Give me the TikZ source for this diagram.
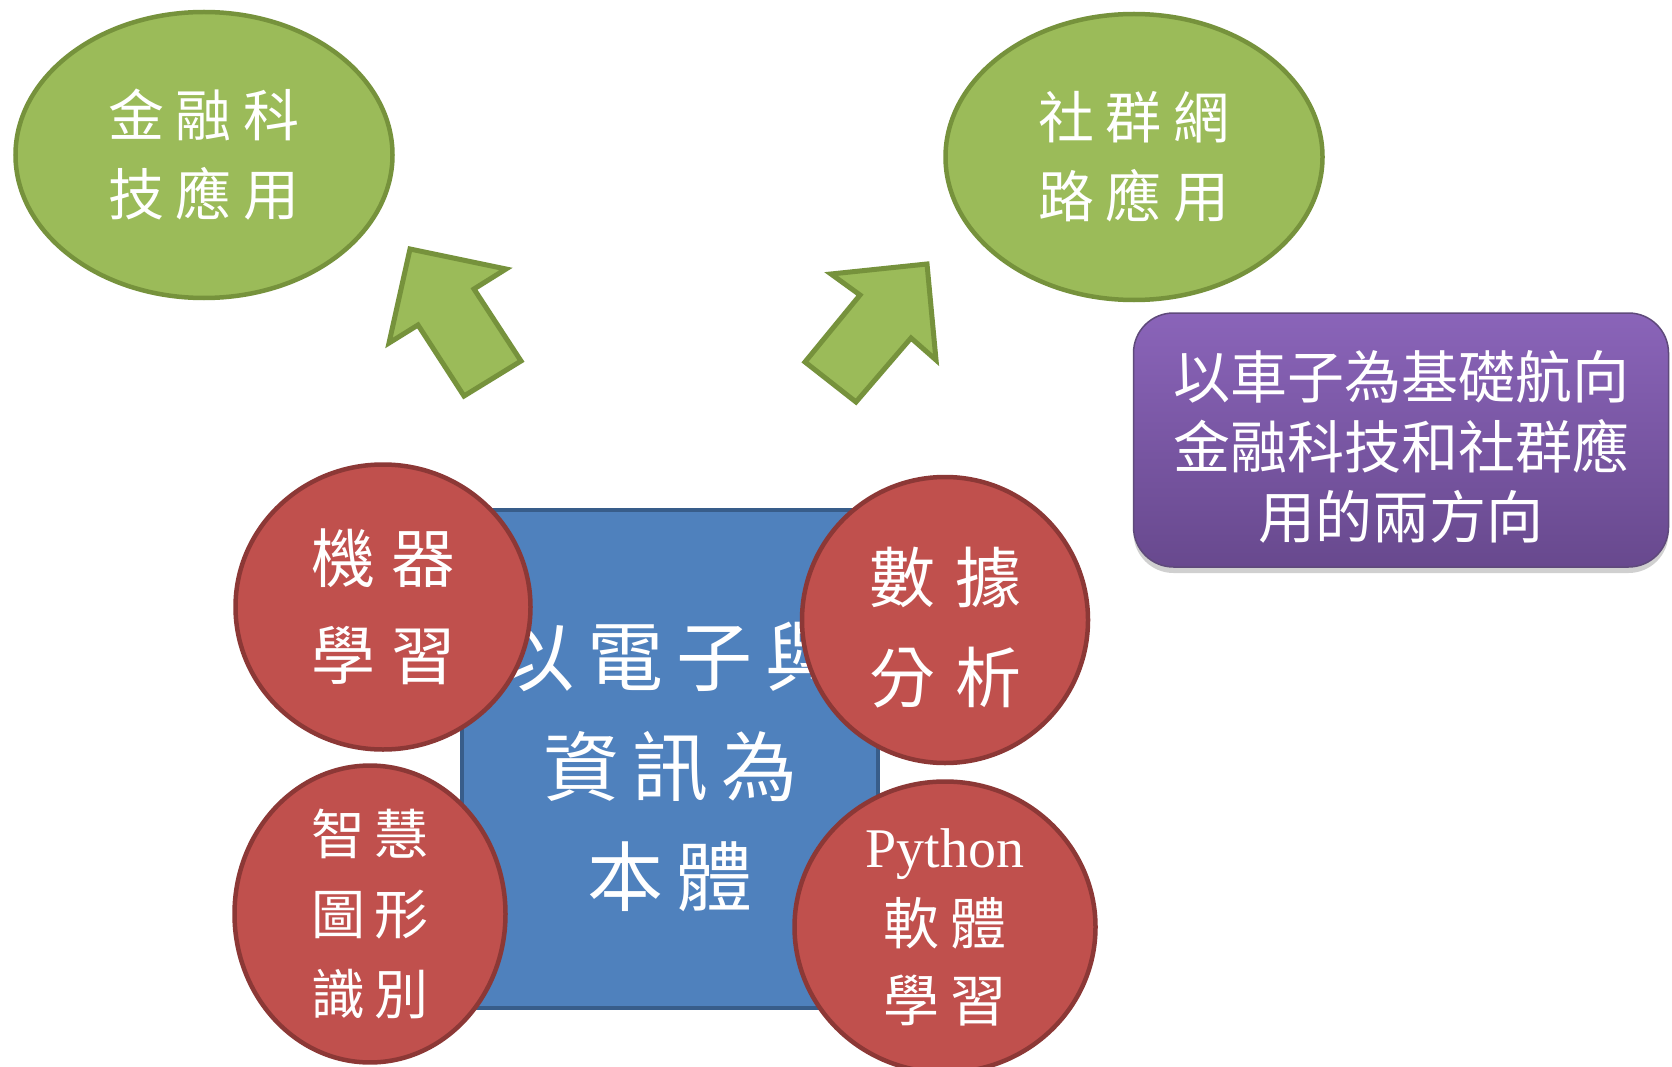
\documentclass[tikz,border=0pt]{standalone}
\usepackage{fontspec}
\setmainfont{Noto Sans CJK TC}
\newfontfamily\pyfont{Liberation Serif}
\usetikzlibrary{shapes.geometric,shadows}
\definecolor{gfill}{HTML}{9BBB59}
\definecolor{gline}{HTML}{76923C}
\definecolor{rfill}{HTML}{C0504D}
\definecolor{rline}{HTML}{8C3836}
\definecolor{bfill}{HTML}{4F81BD}
\definecolor{bline}{HTML}{385D8A}
\definecolor{ptop}{HTML}{8A64B9}
\definecolor{pbot}{HTML}{68498E}
\definecolor{pline}{HTML}{5F4A7B}
\newcommand\gp[1]{\hspace{#1pt}}
\begin{document}
\begin{tikzpicture}[x=1pt,y=-1pt,
  greenell/.style={ellipse, draw=gline, line width=4.5pt, fill=gfill, inner sep=0pt, text=white, align=center,
    minimum width=377pt, minimum height=286pt, font=\fontsize{56}{79}\selectfont},
  redell/.style={ellipse, draw=rline, line width=4.5pt, fill=rfill, inner sep=0pt, text=white, align=center},
  blockarrow/.style={draw=gline, line width=5pt, fill=gfill, line join=miter},
  bluebox/.style={rectangle, draw=bline, line width=4pt, fill=bfill, inner sep=0pt},
  notebox/.style={rectangle, rounded corners=40pt, draw=pline, line width=1.5pt, top color=ptop, bottom color=pbot,
    inner sep=0pt, text=white, align=center, font=\fontsize{57}{70}\selectfont,
    drop shadow={shadow xshift=0pt, shadow yshift=-6pt, opacity=0.3, fill=black!60}}
]
\useasboundingbox (0,0) rectangle (1672,1067);
\fill[white] (0,0) rectangle (1672,1067);

% green ellipses
\node[greenell] (fin) at (204,155) {金\gp{12}融\gp{12}科\\技\gp{12}應\gp{12}用};
\node[greenell] (soc) at (1134,157) {社\gp{12}群\gp{12}網\\路\gp{12}應\gp{12}用};

% block arrows
\draw[blockarrow] (410,249) -- (506,269) -- (474,289) -- (521,361) -- (464,396) -- (418,325) -- (389,343) -- cycle;
\draw[blockarrow] (927,264) -- (936,360) -- (911,338) -- (856,402) -- (805,362) -- (860,295) -- (831,274) -- cycle;

% purple note
\node[notebox, minimum width=535pt, minimum height=254pt] (note) at (1401,440)
  {\rule{0pt}{62pt}以車子為基礎航向\\金融科技和社群應\\用的兩方向};

% blue box and its text
\node[bluebox, minimum width=416pt, minimum height=498pt] (core) at (670,759) {};
\node[text=white, align=center, inner sep=0pt, font=\fontsize{76}{110}\selectfont] (coretext) at (670,767)
  {以\gp{13}電\gp{13}子\gp{13}與\\資\gp{13}訊\gp{13}為\\本\gp{13}體};

% red circles
\node[redell, minimum width=295pt, minimum height=285pt, font=\fontsize{64}{97}\selectfont] (ml) at (383,607)
  {機\gp{16}器\\學\gp{16}習};
\node[redell, minimum width=286pt, minimum height=286pt, font=\fontsize{66}{100}\selectfont] (da) at (945,620)
  {\rule{0pt}{70pt}數\gp{20}據\\分\gp{20}析};
\node[redell, minimum width=271pt, minimum height=287pt, font=\fontsize{54}{80}\selectfont] (img) at (370,914)
  {智\gp{10}慧\\圖\gp{10}形\\識\gp{10}別};
\node[redell, minimum width=301pt, minimum height=291pt, font=\fontsize{56}{77}\selectfont] (py) at (945,927)
  {{\pyfont Python}\\軟\gp{12}體\\學\gp{12}習};
\end{tikzpicture}
\end{document}
